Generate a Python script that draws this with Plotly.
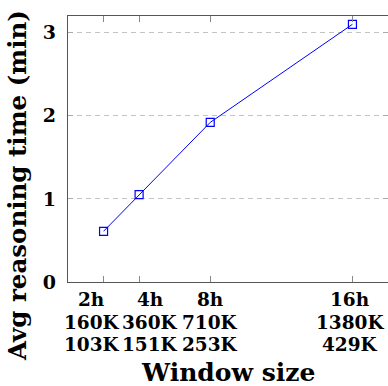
import plotly.graph_objects as go

hours = [2, 4, 8, 16]
hour_labels = ["2h", "4h", "8h", "16h"]
tokens_a = ["160K", "360K", "710K", "1380K"]
tokens_b = ["103K", "151K", "253K", "429K"]
time_min = [0.61, 1.05, 1.92, 3.10]
y_ticks = [0, 1, 2, 3]

FONT = "DejaVu Serif"
W, H = 388, 386
L, R, T = 68, 0, 16
B = H - 282
pw, ph = W - L - R, H - T - B

# horizontal nudges of the tick-label columns (px), row centres below the axis (px)
label_shift = [-12, 11, 0, -2]
row_offsets = [17, 40, 62]

fig = go.Figure()
fig.add_trace(go.Scatter(
    x=hours, y=time_min, mode="lines+markers",
    line=dict(color="#0000ff", width=1),
    marker=dict(symbol="square-open", size=8, color="#0000ff", line=dict(width=1.2)),
    showlegend=False, hoverinfo="skip",
))

annotations = []
for rows_i, row in enumerate([hour_labels, tokens_a, tokens_b]):
    for i, txt in enumerate(row):
        annotations.append(dict(
            text=txt, xref="x", yref="paper", x=hours[i], y=0,
            xanchor="center", yanchor="middle",
            xshift=label_shift[i], yshift=-row_offsets[rows_i],
            showarrow=False, font=dict(family=FONT, size=18.5, weight="bold"),
        ))

annotations.append(dict(
    text="Window size", xref="paper", yref="paper",
    x=(228 - L) / pw, y=(282 - 372) / ph, xanchor="center", yanchor="middle",
    showarrow=False, font=dict(family=FONT, size=25, weight="bold")))
annotations.append(dict(
    text="Avg reasoning time (min)", xref="paper", yref="paper",
    x=(17 - L) / pw, y=(282 - 186) / ph, xanchor="center", yanchor="middle",
    textangle=-90, showarrow=False, font=dict(family=FONT, size=24.5, weight="bold")))

fig.update_layout(
    width=W, height=H,
    margin=dict(l=L, r=R, t=T, b=B, autoexpand=False),
    plot_bgcolor="white", paper_bgcolor="white",
    font=dict(family=FONT, size=19, color="black"),
    xaxis=dict(
        range=[0, 18], tickvals=hours, showticklabels=False,
        ticks="inside", ticklen=6, tickcolor="#888", mirror="ticks",
        showline=True, linecolor="#555", linewidth=1.2,
        showgrid=False, zeroline=False, automargin=False,
    ),
    yaxis=dict(
        range=[0, 3.2], tickvals=y_ticks,
        ticks="inside", ticklen=5, tickcolor="#aaa", mirror="ticks", ticklabelstandoff=7,
        showline=True, linecolor="#555", linewidth=1.2,
        showgrid=True, gridcolor="#c4c4c4", griddash="5px,4px", gridwidth=1,
        zeroline=False, automargin=False,
        tickfont=dict(family=FONT, size=19, weight="bold"),
    ),
    annotations=annotations,
)

fig.write_html(
    "out.html",
    config={"displayModeBar": False},
    post_script="document.body.style.margin='0';document.body.style.overflow='hidden';",
)
